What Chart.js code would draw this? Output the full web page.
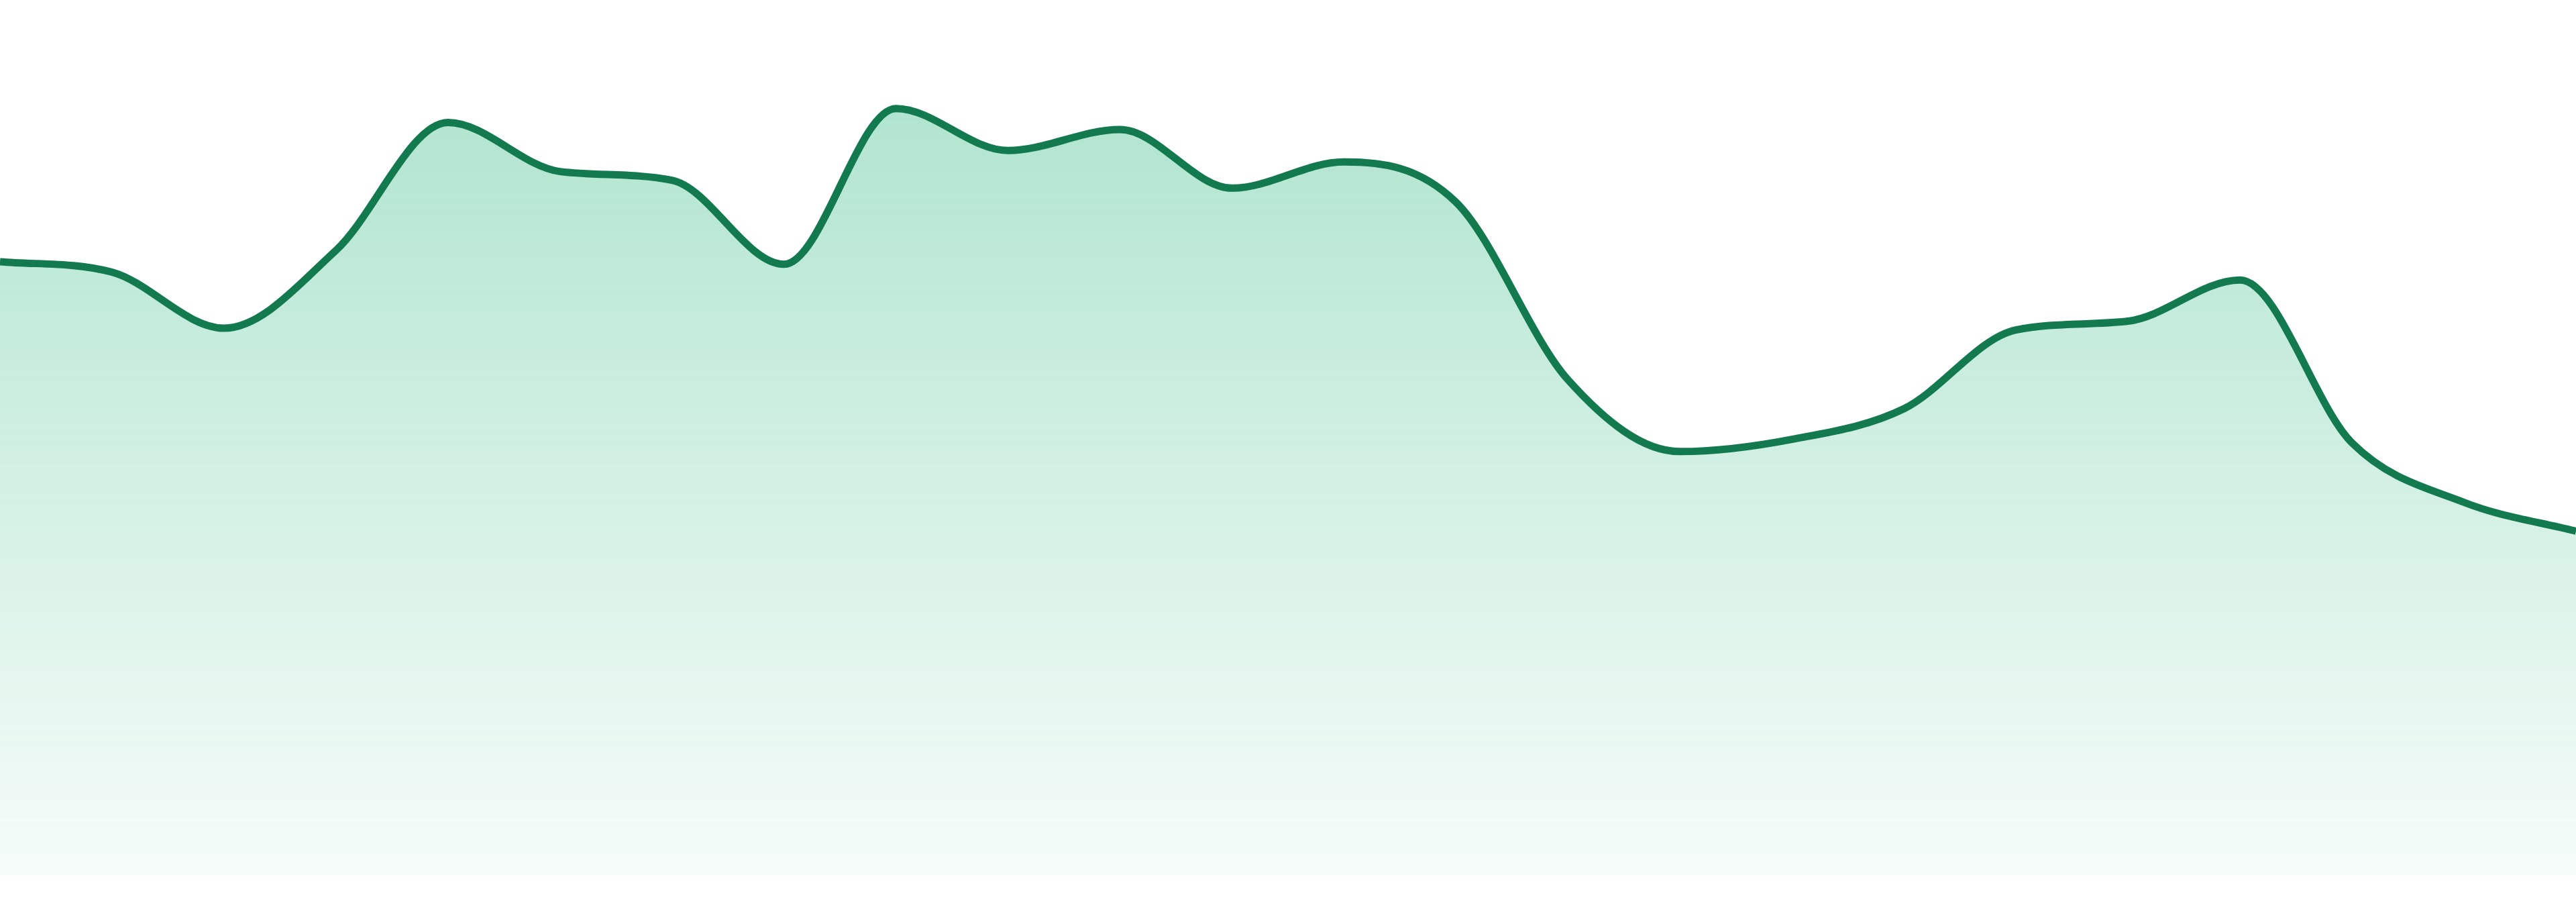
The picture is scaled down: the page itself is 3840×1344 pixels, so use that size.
<html><head>
    <title>Trend</title>
    <meta charset="UTF-8">
    <script src="https://cdn.jsdelivr.net/npm/chart.js"></script>
    <style>
        html, body {
            margin: 0;
            padding: 0;
            background: #fff;
        }
        #wrap {
            width: 3840px;
            height: 1344px;
            position: relative;
        }
    </style>
</head>
<body>
    <div id="wrap"><canvas id="trend"></canvas></div>

    <script>
        // values (0..100 scale)
        const labels = ['1', '2', '3', '4', '5', '6', '7', '8', '9', '10', '11', '12',
                        '13', '14', '15', '16', '17', '18', '19', '20', '21', '22', '23', '24'];
        const values = [70.1, 68.9, 62.5, 71.4, 86.0, 80.4, 79.4, 69.8, 87.6, 82.8, 85.2, 78.5,
                        81.5, 76.9, 56.6, 48.4, 49.8, 53.3, 62.3, 63.3, 68.0, 49.4, 42.6, 39.3];
        const yMin = 0;
        const yMax = 100;

        const lineColor = '#137a50';

        // green wash fading out towards the bottom of the chart area
        function fillGradient(context) {
            const area = context.chart.chartArea;
            if (!area) return 'rgba(18, 175, 112, 0.3)';
            const g = context.chart.ctx.createLinearGradient(0, area.top, 0, area.bottom);
            g.addColorStop(0, 'rgba(18, 175, 112, 0.37)');
            g.addColorStop(1, 'rgba(18, 175, 112, 0.04)');
            return g;
        }

        new Chart(document.getElementById('trend'), {
            type: 'line',
            data: {
                labels: labels,
                datasets: [{
                    data: values,
                    borderColor: lineColor,
                    borderWidth: 11,
                    backgroundColor: fillGradient,
                    fill: 'start',
                    tension: 0.4,
                    cubicInterpolationMode: 'monotone',
                    pointRadius: 0,
                    pointHoverRadius: 0
                }]
            },
            options: {
                responsive: true,
                maintainAspectRatio: false,
                animation: false,
                layout: { padding: { top: 0, bottom: 40, left: 0, right: 0 } },
                plugins: {
                    legend: { display: false },
                    tooltip: { enabled: false }
                },
                scales: {
                    x: { display: false, offset: false },
                    y: { display: false, min: yMin, max: yMax }
                }
            }
        });
    </script>
</body></html>
